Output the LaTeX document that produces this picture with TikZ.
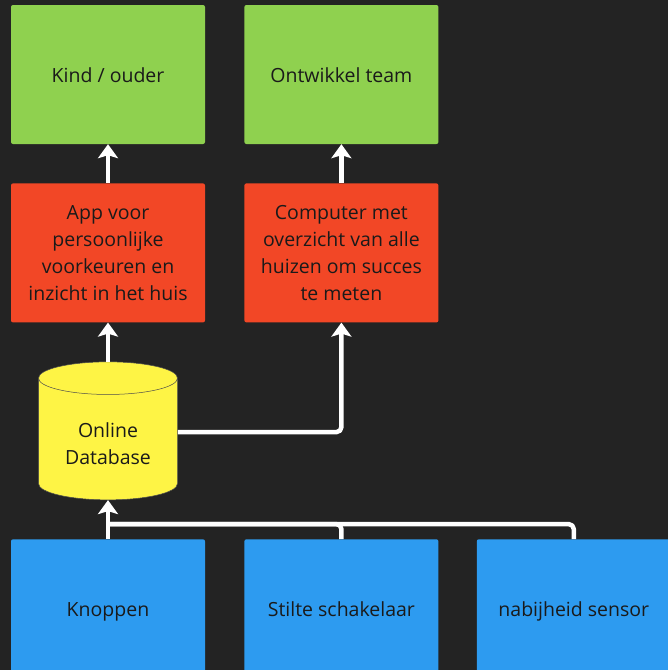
\documentclass[tikz,border=0pt]{standalone}
\usepackage{fontspec}
\setmainfont{Open Sans}
\usepackage{tikz}
\usetikzlibrary{shapes.geometric,arrows.meta,positioning}
\definecolor{bgdark}{HTML}{232323}
\definecolor{boxgreen}{HTML}{8FD14F}
\definecolor{boxred}{HTML}{F24726}
\definecolor{boxyellow}{HTML}{FEF445}
\definecolor{boxblue}{HTML}{2D9BF0}
\definecolor{inkdark}{HTML}{1A1A1A}
\newcommand{\oneline}[1]{\raisebox{0pt}[15pt][0pt]{#1}}

\begin{document}
\begin{tikzpicture}[x=1pt,y=-1pt,line join=round,
  box/.style={rounded corners=2pt,minimum width=194pt,minimum height=139pt,
    inner sep=0pt,text=inkdark,align=center,font=\fontsize{19.5}{27}\selectfont},
  store/.style={cylinder,shape border rotate=90,aspect=0.38,draw=black!70,
    line width=0.5pt,fill=boxyellow,minimum width=139pt,minimum height=138pt,
    inner sep=0pt,text=inkdark,align=center,font=\fontsize{19.5}{27}\selectfont},
  link/.style={draw=white,line width=4.5pt,rounded corners=5pt,
    -{Stealth[length=14pt,width=20pt,inset=3pt]}},
  feed/.style={draw=white,line width=4.5pt,rounded corners=5pt}]
\fill[bgdark] (0,0) rectangle (668,670);
\clip (0,0) rectangle (668,670);
\useasboundingbox (0,0) rectangle (668,670);

% users
\node[box,fill=boxgreen] (kind) at (108,74.5) {\oneline{Kind / ouder}};
\node[box,fill=boxgreen,right=39pt of kind] (team) {\oneline{Ontwikkel team}};

% apps
\node[box,fill=boxred,below=39pt of kind] (app) {App voor\\persoonlijke\\voorkeuren en\\inzicht in het huis};
\node[box,fill=boxred,below=39pt of team] (computer) {Computer met\\overzicht van alle\\huizen om succes\\te meten};

% storage
\node[store,below=39pt of app] (db) {\rule{0pt}{24pt}Online\\Database};

% inputs
\node[box,fill=boxblue,below=39pt of db] (knop) {\oneline{Knoppen}};
\node[box,fill=boxblue,right=39pt of knop] (stilte) {\oneline{Stilte schakelaar}};
\node[box,fill=boxblue,right=38pt of stilte] (sensor) {\oneline{nabijheid sensor}};

\draw[link] (app) -- (kind);
\draw[link] (computer) -- (team);
\draw[link] (db) -- (app);
\draw[link] ([yshift=7pt]db.east) -| (computer);

\coordinate (join) at ([yshift=15pt]knop.north);
\draw[feed] (stilte.north) |- (join);
\draw[feed] (sensor.north) |- (join);
\draw[link] (knop) -- (db);
\end{tikzpicture}
\end{document}
